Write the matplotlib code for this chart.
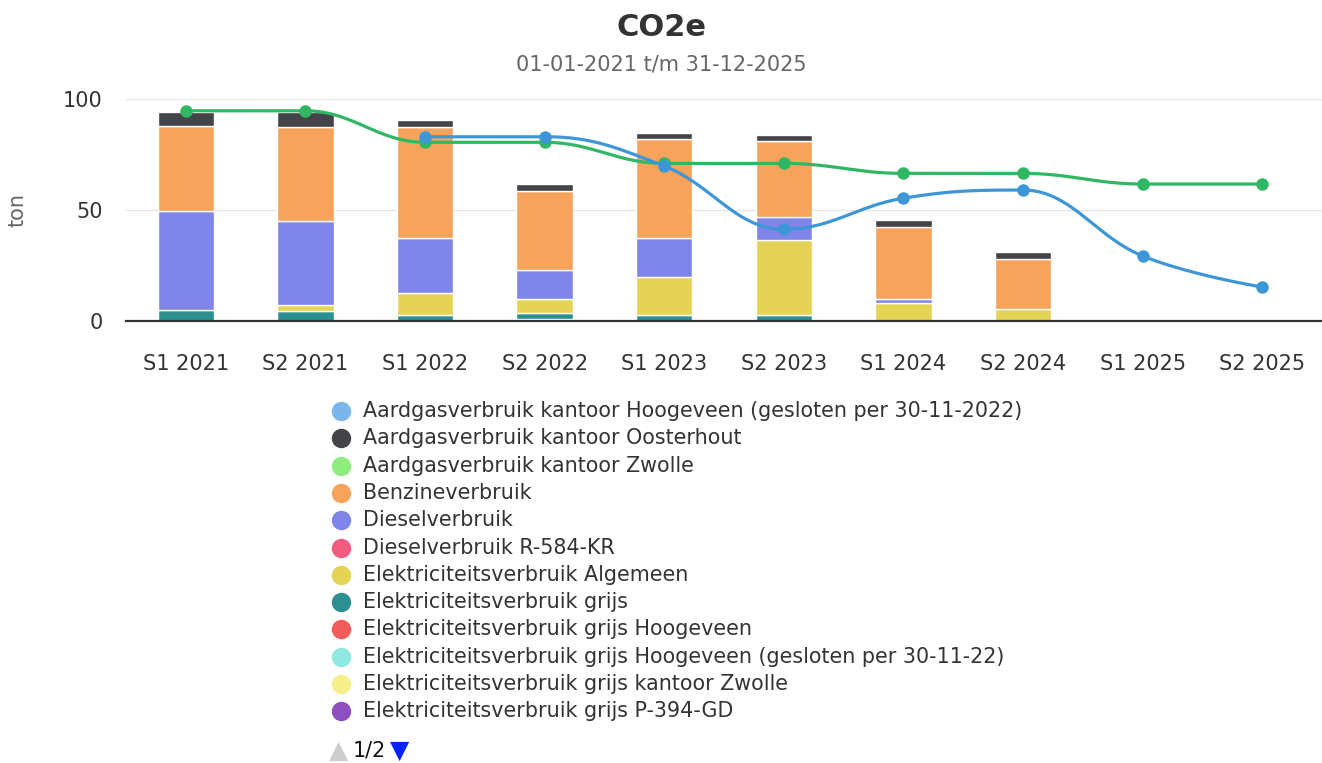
import numpy as np
import matplotlib
matplotlib.use('Agg')
import matplotlib.pyplot as plt

# data
categories = ['S1 2021', 'S2 2021', 'S1 2022', 'S2 2022', 'S1 2023',
              'S2 2023', 'S1 2024', 'S2 2024', 'S1 2025', 'S2 2025']

gas_hoogeveen = [np.nan, np.nan, 83.0, 83.0, 69.8, 41.3, 55.3, 59.0, 29.3, 15.3]
gas_oosterhout = [6.5, 6.5, 3.0, 2.8, 2.7, 2.6, 3.3, 3.2, 0, 0]
gas_zwolle = [94.7, 94.7, 80.5, 80.5, 71.0, 71.0, 66.5, 66.5, 61.7, 61.7]
benzine = [38.3, 42.5, 50.0, 35.7, 44.3, 34.5, 32.2, 22.3, 0, 0]
diesel = [44.5, 38.0, 25.0, 13.0, 17.5, 10.2, 1.7, 0, 0, 0]
diesel_r584 = [0, 0, 0, 0, 0, 0, 0, 0, 0, 0]
elek_algemeen = [0, 2.5, 10.0, 6.5, 17.5, 34.0, 8.3, 5.5, 0, 0]
elek_grijs = [5.0, 4.5, 2.5, 2.5, 2.5, 2.5, 0, 0, 0, 0]
elek_hoogeveen = [0, 0, 0, 0, 0, 0, 0, 0, 0, 0]
elek_hoogeveen_gesl = [0, 0, 0, 0, 0, 0, 0, 0, 0, 0]
elek_zwolle = [0, 0, 0, 0, 0, 0, 0, 0, 0, 0]
elek_p394 = [0, 0, 0, 1.0, 0, 0, 0, 0, 0, 0]

legend_names = [
    'Aardgasverbruik kantoor Hoogeveen (gesloten per 30-11-2022)',
    'Aardgasverbruik kantoor Oosterhout',
    'Aardgasverbruik kantoor Zwolle',
    'Benzineverbruik',
    'Dieselverbruik',
    'Dieselverbruik R-584-KR',
    'Elektriciteitsverbruik Algemeen',
    'Elektriciteitsverbruik grijs',
    'Elektriciteitsverbruik grijs Hoogeveen',
    'Elektriciteitsverbruik grijs Hoogeveen (gesloten per 30-11-22)',
    'Elektriciteitsverbruik grijs kantoor Zwolle',
    'Elektriciteitsverbruik grijs P-394-GD',
]
legend_colors = ['#7cb5ec', '#434348', '#90ed7d', '#f7a35c', '#8085e9', '#f15c80',
                 '#e4d354', '#2b908f', '#f45b5b', '#91e8e1', '#f5f08c', '#8e4fc0']

# stacked from bottom to top
stack = [
    (elek_p394, '#8e4fc0'),
    (elek_zwolle, '#f5f08c'),
    (elek_hoogeveen_gesl, '#91e8e1'),
    (elek_hoogeveen, '#f45b5b'),
    (elek_grijs, '#2b908f'),
    (elek_algemeen, '#e4d354'),
    (diesel_r584, '#f15c80'),
    (diesel, '#8085e9'),
    (benzine, '#f7a35c'),
    (gas_oosterhout, '#434348'),
]


def spline(xs, ys, smoothing=1.5):
    # highcharts-like spline through the points
    n = len(xs)
    left = [(xs[i], ys[i]) for i in range(n)]
    right = [(xs[i], ys[i]) for i in range(n)]
    denom = smoothing + 1
    for i in range(1, n - 1):
        px, py = xs[i], ys[i]
        lx, ly = xs[i - 1], ys[i - 1]
        nx, ny = xs[i + 1], ys[i + 1]
        lcx = (smoothing * px + lx) / denom
        lcy = (smoothing * py + ly) / denom
        rcx = (smoothing * px + nx) / denom
        rcy = (smoothing * py + ny) / denom
        corr = (rcy - lcy) * (rcx - px) / (rcx - lcx) + py - rcy
        lcy += corr
        rcy += corr
        if lcy > ly and lcy > py:
            lcy = max(ly, py)
            rcy = 2 * py - lcy
        elif lcy < ly and lcy < py:
            lcy = min(ly, py)
            rcy = 2 * py - lcy
        if rcy > ny and rcy > py:
            rcy = max(ny, py)
            lcy = 2 * py - rcy
        elif rcy < ny and rcy < py:
            rcy = min(ny, py)
            lcy = 2 * py - rcy
        left[i] = (lcx, lcy)
        right[i] = (rcx, rcy)
    t = np.linspace(0, 1, 40)[:, None]
    pts = []
    for i in range(1, n):
        p0 = np.array([xs[i - 1], ys[i - 1]])
        p1 = np.array(right[i - 1])
        p2 = np.array(left[i])
        p3 = np.array([xs[i], ys[i]])
        b = ((1 - t) ** 3) * p0 + 3 * ((1 - t) ** 2) * t * p1 + 3 * (1 - t) * t ** 2 * p2 + t ** 3 * p3
        pts.append(b)
    pts = np.vstack(pts)
    return pts[:, 0], pts[:, 1]


plt.rcParams['font.family'] = ['DejaVu Sans']
FS = 15

fig = plt.figure(figsize=(13.22, 7.63), dpi=100)
ax = fig.add_axes([126 / 1322, 1 - 321 / 763, 1 - 126 / 1322, 222 / 763])

x = np.arange(len(categories))
bottom = np.zeros(len(categories))
for vals, col in stack:
    v = np.array(vals, dtype=float)
    m = v > 0
    ax.bar(x[m], v[m], 0.47, bottom=bottom[m], color=col, edgecolor='white',
           linewidth=1, zorder=2)
    bottom += v

for vals, col, z in [(gas_zwolle, '#2fb764', 3), (gas_hoogeveen, '#3d97d7', 4)]:
    v = np.array(vals, dtype=float)
    m = ~np.isnan(v)
    sx, sy = spline(list(x[m]), list(v[m]))
    ax.plot(sx, sy, color=col, lw=2.3, zorder=z, solid_capstyle='round')
    ax.plot(x[m], v[m], 'o', color=col, ms=9, mec='none', zorder=z)

ax.set_xlim(-0.5, len(categories) - 0.5)
ax.set_ylim(0, 100)
ax.set_yticks([0, 50, 100])
ax.set_xticks(x)
ax.set_xticklabels(categories)
ax.tick_params(axis='both', length=0, labelsize=FS, colors='#333333')
ax.tick_params(axis='x', pad=24)
ax.tick_params(axis='y', pad=17)
ax.grid(axis='y', color='#e6e6e6', lw=1, zorder=0)
ax.set_axisbelow(True)
for s in ['top', 'right', 'left']:
    ax.spines[s].set_visible(False)
ax.spines['bottom'].set_color('#333333')
ax.spines['bottom'].set_linewidth(1.6)
ax.spines['bottom'].set_zorder(5)
ax.set_ylabel('ton', fontsize=FS, color='#666666')
ax.yaxis.set_label_coords(-98 / 1196, 0.5)

fig.text(0.5, 1 - 27 / 763, 'CO2e', ha='center', va='center', fontsize=22,
         fontweight='bold', color='#333333')
fig.text(0.5, 1 - 65 / 763, '01-01-2021 t/m 31-12-2025', ha='center', va='center',
         fontsize=FS, color='#666666')

# legend
lax = fig.add_axes([0, 0, 1, 1])
lax.set_xlim(0, 1322)
lax.set_ylim(763, 0)
lax.axis('off')
for i, (name, col) in enumerate(zip(legend_names, legend_colors)):
    yy = 411 + 27.3 * i
    lax.plot(341, yy, 'o', color=col, ms=14, mec='none')
    lax.text(363, yy, name, ha='left', va='center', fontsize=14.9, color='#333333')
lax.text(339, 751, '\u25b2', ha='center', va='center', fontsize=18, color='#cccccc')
lax.text(353, 751, '1/2', ha='left', va='center', fontsize=14.9, color='#111111')
lax.text(400, 751, '\u25bc', ha='center', va='center', fontsize=18, color='#0022ff')

fig.savefig('out.png', dpi=100)
